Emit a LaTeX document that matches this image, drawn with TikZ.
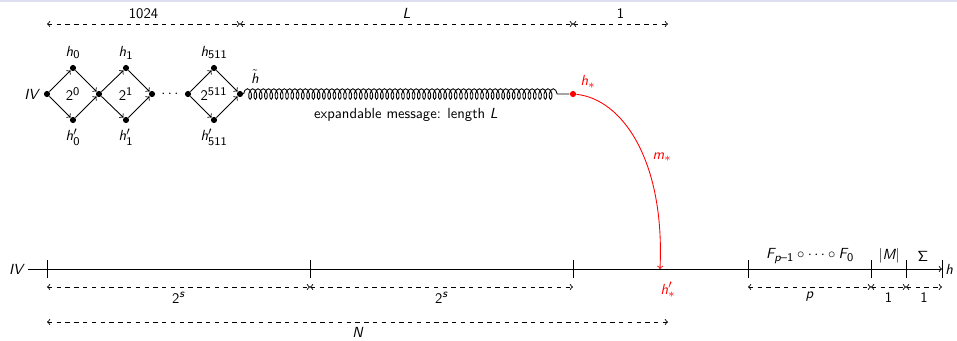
\documentclass[tikz,border=0pt]{standalone}
\renewcommand{\familydefault}{\sfdefault}
\usepackage[italic]{mathastext}
\usetikzlibrary{decorations.pathmorphing}

\definecolor{band}{RGB}{222,222,242}

\tikzset{
  dot/.style={circle, fill, inner sep=0pt, minimum size=4.2pt},
  dim/.style={dashed, <->},
  coilline/.style={decorate, decoration={coil, segment length=3.6pt, amplitude=3.6pt, post length=5pt}},
}

\begin{document}
\begin{tikzpicture}[x=0.024cm, y=-0.024cm, semithick]
		\useasboundingbox (0,0) rectangle (957,340);
		\fill[band] (0,0) rectangle (957,2);

		% Lengths on top
		\coordinate (t0) at (47,24);
		\coordinate (t1) at (240,24);
		\coordinate (t2) at (573,24);
		\coordinate (t3) at (668,24);
		\draw[dim] (t0) -- node[above] {1024} (t1);
		\draw[dim] (t1) -- node[above] {$L$} (t2);
		\draw[dim] (t2) -- node[above] {1} (t3);

		% Multi-collision diamonds
		\node[dot, label=left:$IV$] (v0) at (47,94) {};
		\node[dot] (v1) at (99,94) {};
		\node[dot] (v2) at (152,94) {};
		\node (vdots) at (170,94) {$\cdots$};
		\node[dot] (v3) at (188,94) {};
		\node[dot] (v4) at (240,94) {};
		\node (htilde) at (255,77) {$\tilde{h}$};
		\foreach \a/\b/\x/\i in {v0/v1/73/0, v1/v2/126/1, v3/v4/214/511} {
			\node[dot, label=above:$h_{\i}$] (u\i) at (\x,68) {};
			\node[dot, label=below:$h'_{\i}$] (d\i) at (\x,120) {};
			\node at (\x,94) {$2^{\i}$};
			\draw[->] (\a) -- (u\i);
			\draw[->] (u\i) -- (\b);
			\draw[->] (\a) -- (d\i);
			\draw[->] (d\i) -- (\b);
		}

		% Expandable message
		\node[dot, red] (hstar) at (573,94) {};
		\node[red] (hstarl) at (588,82) {$h_*$};
		\draw[coilline] (v4) -- (hstar);
		\node (expmsg) at (406,115) {expandable message: length $L$};

		% Linking block
		\coordinate (hpin) at (660,269);
		\draw[->, red] (hstar) .. controls (622,99) and (665,160) .. (hpin);
		\node[red] (mstar) at (662,157) {$m_*$};
		\node[red] (hpl) at (668,290) {$h'_*$};

		% Bottom chain
		\node (ivb) at (16,269) {$IV$};
		\node[right, inner sep=2pt] (hout) at (942,269) {$h$};
		\draw[->] (ivb) -- (hout.west);
		\foreach \x in {47,310,573,748,871,906,942}
			\draw (\x,260) -- (\x,278);
		\node at (810,256) {$F_{p-1}\circ\cdots\circ F_0$};
		\node at (889,256) {$|M|$};
		\node at (923,256) {\usefont{OT1}{cmss}{m}{n}\char6};

		% Lengths at the bottom
		\coordinate (b0) at (47,287);
		\coordinate (b1) at (310,287);
		\coordinate (b2) at (573,287);
		\coordinate (b3) at (748,287);
		\coordinate (b4) at (871,287);
		\coordinate (b5) at (906,287);
		\coordinate (b6) at (942,287);
		\draw[dim] (b0) -- node[below] {$2^s$} (b1);
		\draw[dim] (b1) -- node[below] {$2^s$} (b2);
		\draw[dim] (b3) -- node[below] {$p$} (b4);
		\draw[dim] (b4) -- node[below] {1} (b5);
		\draw[dim] (b5) -- node[below] {1} (b6);
		\coordinate (n0) at (47,322);
		\coordinate (n1) at (668,322);
		\draw[dim] (n0) -- node[below] {$N$} (n1);
	\end{tikzpicture}
\end{document}
